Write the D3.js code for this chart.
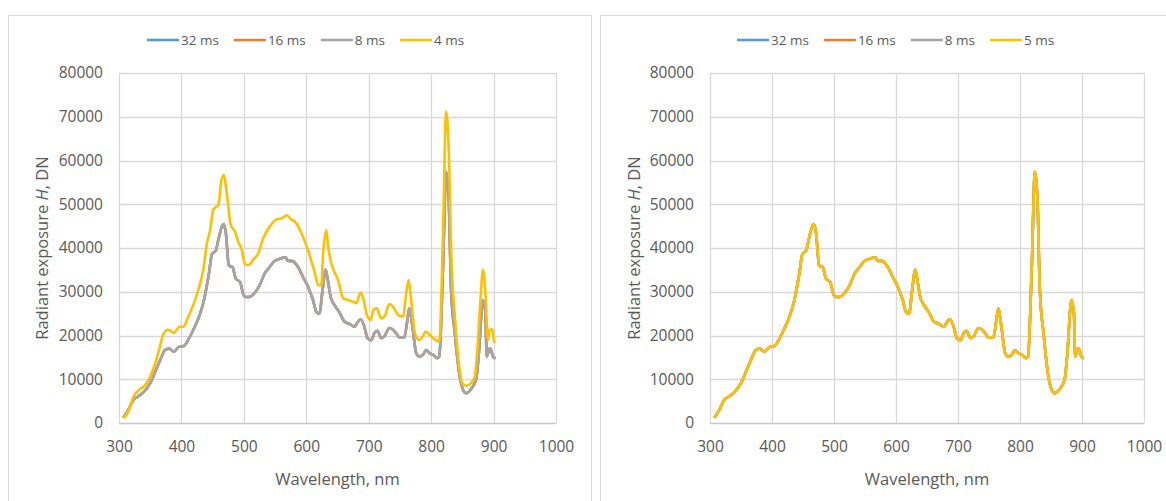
<!DOCTYPE html>
<html>
<head>
<meta charset="utf-8">
<script src="https://cdn.jsdelivr.net/npm/d3@7"></script>
<style>
  body { margin: 0; background: #fff; }
  svg { display: block; font-family: "Open Sans", "Liberation Sans", sans-serif; }
</style>
</head>
<body>
<svg width="1166" height="501"></svg>
<script>
// wavelength grid for the 8/16/32 ms (and 5 ms) curves
const wavelengths = [307, 315, 323, 331, 339, 350, 358, 366, 374, 380, 388, 396, 404, 412, 420, 428, 436, 444, 449, 455,
  460, 467, 471, 476, 482, 487, 494, 499, 503, 509, 517, 525, 533, 541, 549, 557, 567, 570, 578, 587,
  595, 603, 611, 616, 621, 626, 631, 635, 639, 646, 653, 661, 670, 677, 681, 687, 693, 698, 704, 709,
  714, 720, 725, 733, 739, 744, 749, 757, 762, 765, 770, 776, 781, 787, 792, 797, 803, 810, 813, 819,
  824, 828, 832, 838, 845, 851, 856, 863, 872, 876, 883, 887, 889, 894, 896, 899, 903];

// radiant exposure, normalised curves (32, 16, 8 ms overlap; 5 ms on right overlaps too)
const hNorm = [1200, 3000, 5300, 6100, 7000, 9100, 11700, 14400, 16700, 17000, 16300, 17400, 17600, 19300, 21600, 24200, 28000, 34100, 38600, 39400,
  42400, 45500, 43600, 36000, 35600, 33000, 32200, 29500, 28800, 28800, 29700, 31400, 34100, 35600, 37000, 37500, 37900, 37100, 37000, 35600,
  33300, 31100, 28000, 25400, 25000, 30300, 35000, 32200, 28800, 26800, 25300, 23200, 22600, 22000, 22800, 23700, 22000, 19400, 18900, 20500,
  21100, 19400, 19800, 21700, 21300, 20500, 19600, 19600, 23600, 26200, 22100, 16000, 15200, 15600, 16700, 16000, 15600, 14800, 15200, 35700,
  57400, 51700, 30400, 20500, 11400, 7600, 6800, 7600, 9900, 15200, 28100, 25100, 15200, 17100, 16700, 15200, 14800];

// 4 ms curve on the left chart
const wavelengths4 = [307, 315, 323, 331, 342, 350, 358, 365, 371, 379, 388, 397, 403, 411, 419, 427, 435, 441, 446, 451,
  459, 464, 468, 472, 479, 486, 491, 496, 502, 507, 515, 523, 531, 542, 553, 561, 569, 575, 582, 590,
  598, 606, 614, 619, 624, 627, 632, 635, 640, 646, 651, 659, 667, 675, 680, 687, 692, 697, 703, 708,
  713, 720, 726, 733, 739, 747, 755, 760, 764, 768, 774, 781, 786, 791, 798, 806, 813, 819, 824, 829,
  832, 838, 845, 850, 856, 864, 870, 874, 879, 883, 887, 891, 894, 898, 901, 903];
const h4ms = [1100, 2600, 6000, 7400, 8700, 10600, 13600, 17100, 20300, 21300, 20600, 22000, 22000, 24300, 27000, 30400, 35000, 41200, 44100, 48800,
  49800, 55500, 56700, 53300, 45300, 43700, 41400, 39900, 36300, 36100, 37300, 38800, 42200, 45000, 46600, 46800, 47500, 46600, 46000, 44100,
  41400, 38000, 34200, 31500, 31500, 38800, 44100, 40300, 36500, 34200, 32700, 28500, 28100, 27700, 27400, 29800, 28100, 24700, 23500, 26000,
  26200, 23900, 24500, 27200, 26600, 24700, 24300, 29600, 32700, 28100, 20500, 19000, 19700, 20900, 20100, 19100, 18600, 43400, 71200, 58600,
  39500, 24300, 12900, 9100, 8500, 9100, 10600, 16700, 28100, 35000, 29600, 19000, 21300, 21400, 18600, 18400];

const xTicks = [300, 400, 500, 600, 700, 800, 900, 1000];
const yTicks = [0, 10000, 20000, 30000, 40000, 50000, 60000, 70000, 80000];
const seriesColors = ["#5B9BD5", "#ED7D31", "#A5A5A5", "#FFC000"];

const leftSeries = [
  { name: "32 ms", x: wavelengths, y: hNorm },
  { name: "16 ms", x: wavelengths, y: hNorm },
  { name: "8 ms", x: wavelengths, y: hNorm },
  { name: "4 ms", x: wavelengths4, y: h4ms }
];
const rightSeries = [
  { name: "32 ms", x: wavelengths, y: hNorm },
  { name: "16 ms", x: wavelengths, y: hNorm },
  { name: "8 ms", x: wavelengths, y: hNorm },
  { name: "5 ms", x: wavelengths, y: hNorm }
];

let svg = d3.select("svg");

function panel(box, plot, legendX, series) {
  let g = svg.append("g");

  g.append("rect")
    .attr("x", box[0] + 0.5)
    .attr("y", box[1] + 0.5)
    .attr("width", box[2])
    .attr("height", box[3])
    .attr("fill", "#fff")
    .attr("stroke", "#d9d9d9");

  let x = d3.scaleLinear().domain([300, 1000]).range([plot.left, plot.right]);
  let y = d3.scaleLinear().domain([0, 80000]).range([plot.bottom, plot.top]);

  // grid
  g.selectAll(".hgrid")
    .data(yTicks)
    .enter()
    .append("line")
    .attr("x1", plot.left)
    .attr("x2", plot.right)
    .attr("y1", (d) => Math.round(y(d)) + 0.5)
    .attr("y2", (d) => Math.round(y(d)) + 0.5)
    .attr("stroke", (d) => (d === 0 ? "#c8c8c8" : "#d9d9d9"))
    .attr("stroke-width", 1.3);

  g.selectAll(".vgrid")
    .data(xTicks)
    .enter()
    .append("line")
    .attr("x1", (d) => Math.round(x(d)) + 0.5)
    .attr("x2", (d) => Math.round(x(d)) + 0.5)
    .attr("y1", plot.top)
    .attr("y2", plot.bottom)
    .attr("stroke", "#d9d9d9")
    .attr("stroke-width", 1.3);

  // axes (labels only, Excel style)
  let yAxis = g.append("g")
    .attr("transform", "translate(" + (plot.left - 2) + ",0)")
    .call(d3.axisLeft(y).tickValues(yTicks).tickSize(0).tickPadding(14).tickFormat(d3.format("d")));
  let xAxis = g.append("g")
    .attr("transform", "translate(0," + (plot.bottom + 2) + ")")
    .call(d3.axisBottom(x).tickValues(xTicks).tickSize(0).tickPadding(16).tickFormat(d3.format("d")));
  [yAxis, xAxis].forEach((a) => {
    a.select(".domain").remove();
    a.selectAll("text")
      .attr("fill", "#595959")
      .style("font-size", "15.5px")
      .style("font-family", "'Open Sans', sans-serif");
  });

  // axis titles
  g.append("text")
    .attr("x", (plot.left + plot.right) / 2)
    .attr("y", plot.bottom + 62)
    .attr("text-anchor", "middle")
    .attr("fill", "#595959")
    .style("font-size", "16.5px")
    .text("Wavelength, nm");

  let yt = g.append("text")
    .attr("transform", "translate(" + (box[0] + 40) + "," + (plot.top + plot.bottom) / 2 + ") rotate(-90)")
    .attr("text-anchor", "middle")
    .attr("fill", "#595959")
    .style("font-size", "16.5px");
  yt.append("tspan").text("Radiant exposure ");
  yt.append("tspan").style("font-style", "italic").text("H");
  yt.append("tspan").text(", DN");

  // lines
  let line = d3.line()
    .x((d) => x(d[0]))
    .y((d) => y(d[1]))
    .curve(d3.curveMonotoneX);

  series.forEach((s, i) => {
    g.append("path")
      .datum(s.x.map((w, j) => [w, s.y[j]]))
      .attr("fill", "none")
      .attr("stroke", seriesColors[i])
      .attr("stroke-width", 2.6)
      .attr("stroke-linejoin", "round")
      .attr("d", line);
  });

  // legend
  let lx = legendX;
  let ly = 40;
  series.forEach((s, i) => {
    g.append("line")
      .attr("x1", lx)
      .attr("x2", lx + 32)
      .attr("y1", ly)
      .attr("y2", ly)
      .attr("stroke", seriesColors[i])
      .attr("stroke-width", 2.6);
    let t = g.append("text")
      .attr("x", lx + 34)
      .attr("y", ly + 5)
      .attr("fill", "#595959")
      .style("font-size", "13.5px")
      .text(s.name);
    lx += 34 + t.node().getComputedTextLength() + 15;
  });
}

panel([8, 15, 583, 500], { left: 119, right: 556, top: 73, bottom: 423 }, 147, leftSeries);
panel([600, 15, 580, 500], { left: 710, right: 1144, top: 73, bottom: 423 }, 737, rightSeries);
</script>
</body>
</html>
